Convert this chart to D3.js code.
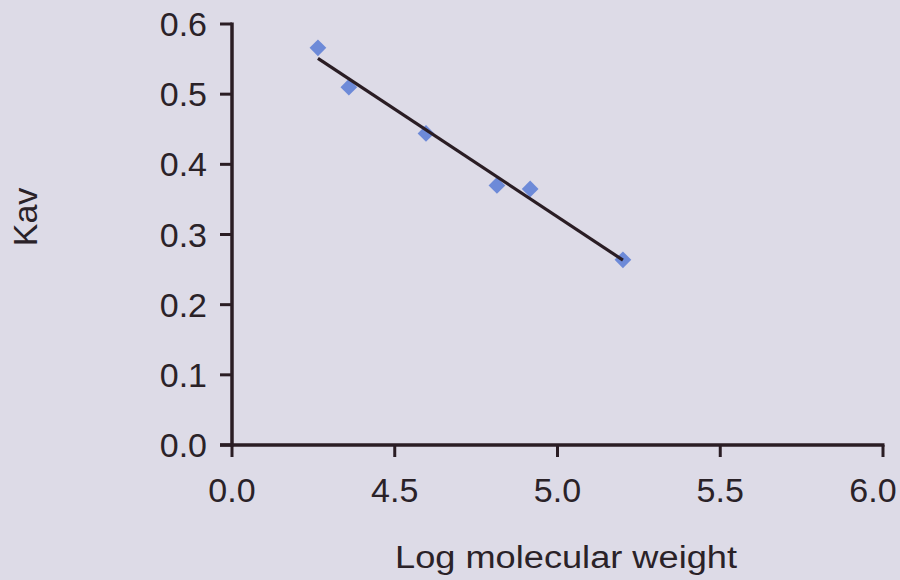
<!DOCTYPE html>
<html>
<head>
<meta charset="utf-8">
<script src="https://cdn.jsdelivr.net/npm/d3@7"></script>
<style>
	body { margin: 0; background: #dddbe7; }
	text { font-family: "Liberation Sans", Arial, sans-serif; fill: #2a2228; }
</style>
</head>
<body>
<svg id="chart" width="900" height="580"></svg>
<script>

// log MW vs Kav
var logMW = [4.264, 4.359, 4.596, 4.814, 4.916, 5.201];
var kav = [0.566, 0.510, 0.444, 0.370, 0.365, 0.264];

var xTicks = [4.0, 4.5, 5.0, 5.5, 6.0];
var xTickLabels = ["0.0", "4.5", "5.0", "5.5", "6.0"];
var yTicks = [0, 0.1, 0.2, 0.3, 0.4, 0.5, 0.6];

var svg = d3.select("#chart");

var x = d3.scaleLinear().domain([4, 6]).range([232, 883]);
var y = d3.scaleLinear().domain([0, 0.6]).range([445, 24]);

var ink = "#2a1d24";

// least squares trendline
var mx = d3.mean(logMW), my = d3.mean(kav);
var sxy = d3.sum(logMW, function(d, i) { return (d - mx) * (kav[i] - my); });
var sxx = d3.sum(logMW, function(d) { return (d - mx) * (d - mx); });
var slope = sxy / sxx;
var icpt = my - slope * mx;
var x0 = d3.min(logMW), x1 = d3.max(logMW);

// y axis
var yAxis = svg.append("g");
yAxis.append("line")
	.attr("x1", x(4)).attr("x2", x(4))
	.attr("y1", y(0.6) - 1.5).attr("y2", y(0) + 1.5)
	.attr("stroke", ink).attr("stroke-width", 3.5);
yAxis.selectAll(".ytick")
	.data(yTicks)
	.enter()
	.append("line")
	.attr("x1", x(4) - 12).attr("x2", x(4))
	.attr("y1", function(d) { return y(d); })
	.attr("y2", function(d) { return y(d); })
	.attr("stroke", ink).attr("stroke-width", 3);
yAxis.selectAll(".ylab")
	.data(yTicks)
	.enter()
	.append("text")
	.attr("x", 207)
	.attr("y", function(d) { return y(d) + 12; })
	.attr("text-anchor", "end")
	.attr("font-size", 34)
	.text(function(d) { return d3.format(".1f")(d); });

// x axis
var xAxis = svg.append("g");
xAxis.append("line")
	.attr("x1", x(4) - 12).attr("x2", x(6) + 1.5)
	.attr("y1", y(0)).attr("y2", y(0))
	.attr("stroke", ink).attr("stroke-width", 3.5);
xAxis.selectAll(".xtick")
	.data(xTicks)
	.enter()
	.append("line")
	.attr("x1", function(d) { return x(d); })
	.attr("x2", function(d) { return x(d); })
	.attr("y1", y(0)).attr("y2", y(0) + 12)
	.attr("stroke", ink).attr("stroke-width", 3);
xAxis.selectAll(".xlab")
	.data(xTicks)
	.enter()
	.append("text")
	.attr("x", function(d) { return Math.min(x(d), 873); })
	.attr("y", 502)
	.attr("text-anchor", "middle")
	.attr("font-size", 34)
	.text(function(d, i) { return xTickLabels[i]; });

// titles
svg.append("text")
	.attr("x", 395).attr("y", 568)
	.attr("font-size", 31)
	.attr("textLength", 342)
	.attr("lengthAdjust", "spacingAndGlyphs")
	.text("Log molecular weight");

svg.append("text")
	.attr("transform", "translate(37,217) rotate(-90)")
	.attr("text-anchor", "middle")
	.attr("font-size", 34)
	.text("Kav");

// markers
var diamond = d3.symbol().type(d3.symbolSquare).size(140);
svg.selectAll(".pt")
	.data(logMW)
	.enter()
	.append("path")
	.attr("d", diamond)
	.attr("transform", function(d, i) { return "translate(" + x(d) + "," + y(kav[i]) + ") rotate(45)"; })
	.attr("fill", "#6d8ad8");

// trendline on top
svg.append("line")
	.attr("x1", x(x0)).attr("y1", y(slope * x0 + icpt))
	.attr("x2", x(x1)).attr("y2", y(slope * x1 + icpt))
	.attr("stroke", ink).attr("stroke-width", 3.2);

</script>
</body>
</html>
